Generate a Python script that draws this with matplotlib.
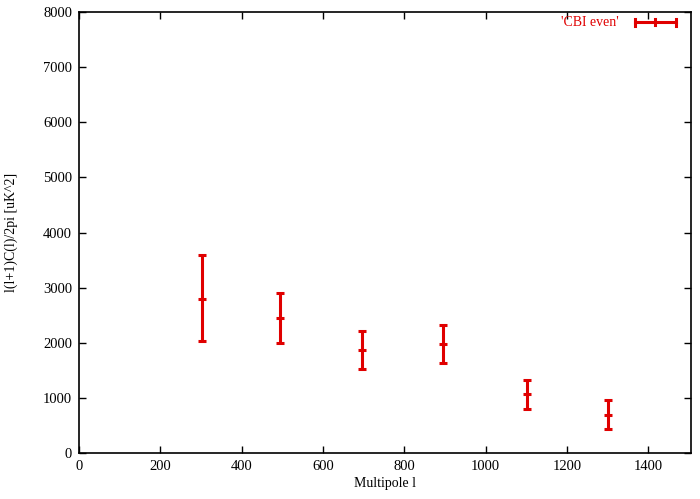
import matplotlib
matplotlib.use("Agg")
import matplotlib.pyplot as plt
from matplotlib.lines import Line2D

# Data
ell = [303, 495, 695, 896, 1101, 1300]
power = [2800, 2445, 1865, 1975, 1065, 690]
err_hi = [3585, 2905, 2208, 2322, 1328, 956]
err_lo = [2030, 1995, 1525, 1630, 795, 430]

xticks = [0, 200, 400, 600, 800, 1000, 1200, 1400]
yticks = [0, 1000, 2000, 3000, 4000, 5000, 6000, 7000, 8000]
series_label = "'CBI even'"

plt.rcParams['font.family'] = ['Liberation Serif', 'DejaVu Serif']
red = '#e00000'

fig = plt.figure(figsize=(7.0, 4.99), dpi=100)
ax = fig.add_axes([79/700, 46/499, (691-79)/700, (453-12)/499])

yerr = [[p - l for p, l in zip(power, err_lo)], [h - p for p, h in zip(power, err_hi)]]
ax.errorbar(ell, power, yerr=yerr, fmt='_', color=red, ecolor=red,
            elinewidth=2.2, capsize=2.6, capthick=2.2, markersize=5.5, mew=2.2)

ax.set_xlim(0, 1505)
ax.set_ylim(0, 8000)
ax.set_xticks(xticks)
ax.set_yticks(yticks)
ax.tick_params(direction='in', length=5, width=1, top=True, right=True,
               labelsize=10.5, pad=5)
for s in ax.spines.values():
    s.set_linewidth(1.2)

ax.set_xlabel('Multipole l', fontsize=10, labelpad=3)
ax.set_ylabel('l(l+1)C(l)/2pi [uK^2]', fontsize=10, labelpad=18)

# Legend drawn gnuplot-style
ax.text(0.882, 0.977, series_label, transform=ax.transAxes, color=red,
        fontsize=10, ha='right', va='center')
x0, x1, yl = 0.908, 0.975, 0.977
ax.add_line(Line2D([x0, x1], [yl, yl], transform=ax.transAxes, color=red, lw=2.2))
for xx in (x0, x1):
    ax.add_line(Line2D([xx, xx], [yl - 0.008, yl + 0.008], transform=ax.transAxes, color=red, lw=2.2))
ax.add_line(Line2D([(x0 + x1) / 2] * 2, [yl - 0.006, yl + 0.006], transform=ax.transAxes, color=red, lw=2.2))

fig.savefig('out.png', dpi=100)
